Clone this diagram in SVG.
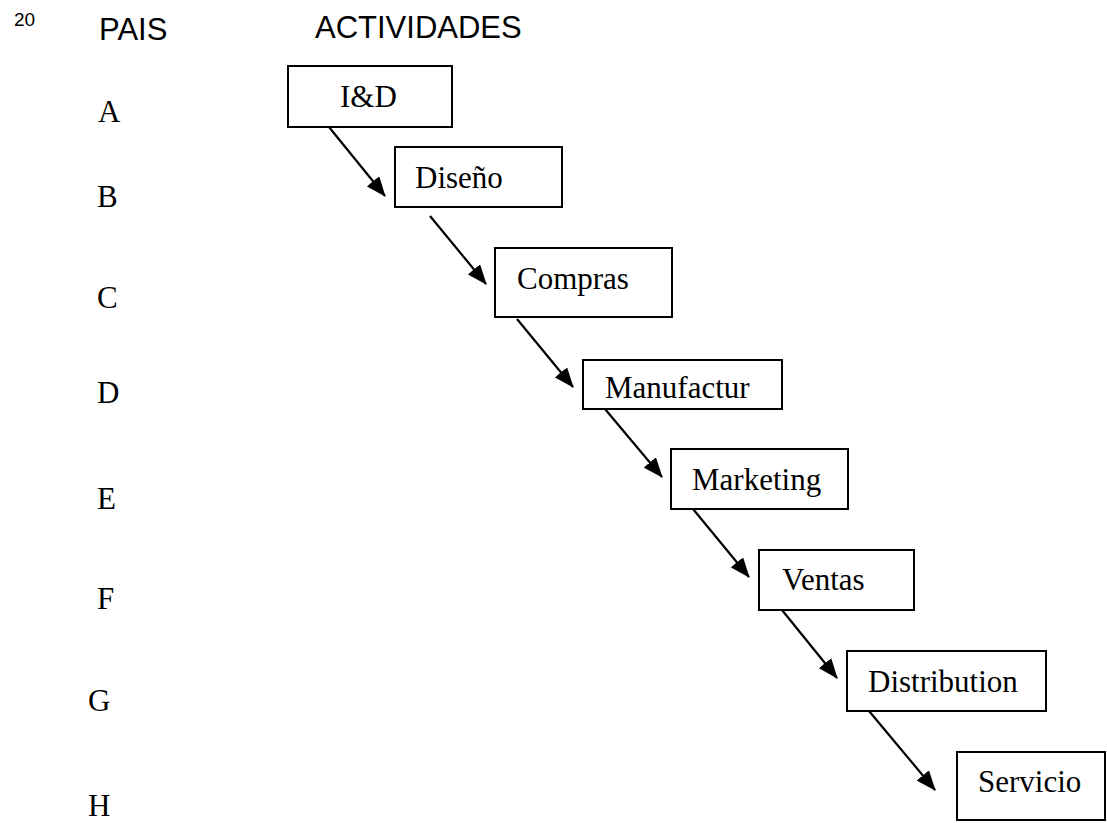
<svg xmlns="http://www.w3.org/2000/svg" width="1107" height="823" viewBox="0 0 1107 823">
<style>
.box{fill:#fff;stroke:#000;stroke-width:2}
.lbl{font-family:"Liberation Serif","Times New Roman",serif;font-size:31px;fill:#000}
.hdr{font-family:"Liberation Sans",Arial,sans-serif;font-size:31px;fill:#000}
.cn{stroke:#000;stroke-width:2.2;fill:none;marker-end:url(#ah)}
</style>
<defs>
<marker id="ah" markerUnits="userSpaceOnUse" markerWidth="20" markerHeight="16" viewBox="0 0 20 16" refX="19" refY="8" orient="auto">
<path d="M0,0 L20,8 L0,16 Z" fill="#000"/>
</marker>
</defs>
<rect width="1107" height="823" fill="#fff"/>
<g id="headers">
<text x="14" y="26" font-family="Liberation Sans,Arial,sans-serif" font-size="19">20</text>
<text class="hdr" x="99" y="40">PAIS</text>
<text class="hdr" x="315" y="38">ACTIVIDADES</text>
</g>
<g id="countries">
<text class="lbl" x="98" y="122">A</text>
<text class="lbl" x="97" y="207">B</text>
<text class="lbl" x="97" y="308">C</text>
<text class="lbl" x="97" y="403">D</text>
<text class="lbl" x="97" y="509">E</text>
<text class="lbl" x="97" y="609">F</text>
<text class="lbl" x="88" y="711">G</text>
<text class="lbl" x="88" y="816">H</text>
</g>
<g id="connectors">
<line class="cn" x1="329" y1="127" x2="385" y2="196"/>
<line class="cn" x1="430" y1="216" x2="486" y2="284"/>
<line class="cn" x1="517" y1="319" x2="573" y2="387"/>
<line class="cn" x1="605" y1="409" x2="662" y2="477"/>
<line class="cn" x1="693" y1="509" x2="749" y2="577"/>
<line class="cn" x1="782" y1="610" x2="837" y2="678"/>
<line class="cn" x1="869" y1="711" x2="935" y2="790"/>
</g>
<g id="node-id"><rect class="box" x="288" y="66" width="164" height="61"/><text class="lbl" x="340" y="107">I&amp;D</text></g>
<g id="node-diseno"><rect class="box" x="395" y="147" width="167" height="60"/><text class="lbl" x="415" y="188">Diseño</text></g>
<g id="node-compras"><rect class="box" x="495" y="248" width="177" height="69"/><text class="lbl" x="517" y="289">Compras</text></g>
<g id="node-manufactur"><rect class="box" x="583" y="360" width="199" height="49"/><text class="lbl" x="605" y="398">Manufactur</text></g>
<g id="node-marketing"><rect class="box" x="671" y="449" width="177" height="60"/><text class="lbl" x="692" y="490">Marketing</text></g>
<g id="node-ventas"><rect class="box" x="759" y="550" width="155" height="60"/><text class="lbl" x="782" y="590">Ventas</text></g>
<g id="node-distribution"><rect class="box" x="847" y="651" width="199" height="60"/><text class="lbl" x="868" y="692">Distribution</text></g>
<g id="node-servicio"><rect class="box" x="957" y="752" width="148" height="68"/><text class="lbl" x="978" y="792">Servicio</text></g>
</svg>
